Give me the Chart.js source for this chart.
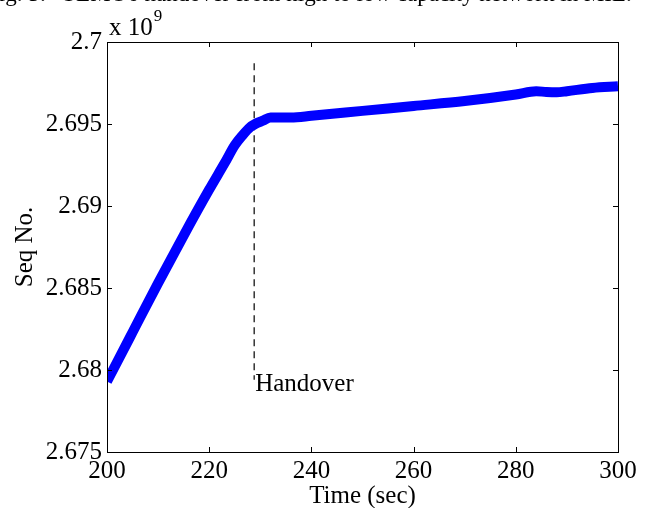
<!DOCTYPE html>
<html>
<head>
<meta charset="utf-8">
<script src="https://cdn.jsdelivr.net/npm/chart.js@4/dist/chart.umd.min.js"></script>
<style>
  html, body { margin: 0; padding: 0; background: #fff; overflow: hidden; }
  #wrap { position: relative; width: 651px; height: 508px; }
  #cap { position: absolute; left: -14px; top: -19px; font: 23px "Liberation Serif", serif; color: #000; white-space: pre; }
</style>
</head>
<body>
<div id="wrap">
  <div id="cap">Fig. 5:   SEMO6 handover from high to low capacity network in MIL.</div>
  <canvas id="c" width="651" height="508"></canvas>
</div>
<script>
// time in seconds, sequence numbers in units of 1e9
const times = [200, 205, 210, 215, 220, 223, 225, 226.5, 228, 229, 230.5, 232, 236, 240, 250, 260, 270, 280, 284, 286, 288, 290, 295, 300];
const seqNo = [2.6793, 2.6823, 2.6853, 2.6882, 2.6910, 2.6926, 2.6937, 2.6943, 2.6948, 2.6950, 2.6952, 2.6954, 2.6954, 2.6955, 2.6958, 2.6961, 2.6964, 2.6968, 2.6970, 2.69695, 2.69693, 2.6970, 2.6972, 2.6973];
const handoverTime = 228.8;
const handoverSpan = [2.6987, 2.6794];
const xTicks = [200, 220, 240, 260, 280, 300];
const yTicks = [2.675, 2.68, 2.685, 2.69, 2.695, 2.7];

const font = "Liberation Serif";
const fs = 25;

const frame = {
  id: "frame",
  afterDraw(chart) {
    const ctx = chart.ctx, a = chart.chartArea;
    const xs = chart.scales.x, ys = chart.scales.y;
    ctx.save();
    ctx.strokeStyle = "#000";
    ctx.lineWidth = 1;
    ctx.strokeRect(a.left + 0.5, a.top + 0.5, a.right - a.left, a.bottom - a.top);
    ctx.beginPath();
    xTicks.forEach(v => {
      const px = Math.round(xs.getPixelForValue(v)) + 0.5;
      ctx.moveTo(px, a.bottom); ctx.lineTo(px, a.bottom - 5);
      ctx.moveTo(px, a.top); ctx.lineTo(px, a.top + 5);
    });
    yTicks.forEach(v => {
      const py = Math.round(ys.getPixelForValue(v)) + 0.5;
      ctx.moveTo(a.left, py); ctx.lineTo(a.left + 5, py);
      ctx.moveTo(a.right, py); ctx.lineTo(a.right - 5, py);
    });
    ctx.stroke();
    ctx.fillStyle = "#000";
    ctx.textBaseline = "alphabetic";
    ctx.font = fs + "px '" + font + "'";
    ctx.fillText("x 10", a.left + 2, a.top - 7);
    const w = ctx.measureText("x 10").width;
    ctx.font = "17px '" + font + "'";
    ctx.fillText("9", a.left + 3 + w, a.top - 21);
    ctx.font = fs + "px '" + font + "'";
    ctx.fillText("Handover", xs.getPixelForValue(handoverTime) + 1, ys.getPixelForValue(2.6787));
    ctx.restore();
  }
};

new Chart(document.getElementById("c"), {
  type: "scatter",
  data: {
    datasets: [{
      data: times.map((t, i) => ({ x: t, y: seqNo[i] })),
      showLine: true,
      borderColor: "#0000ff",
      borderWidth: 10,
      pointRadius: 0,
      tension: 0.3,
      cubicInterpolationMode: "monotone",
      borderJoinStyle: "round",
      borderCapStyle: "butt"
    }, {
      data: handoverSpan.map(v => ({ x: handoverTime, y: v })),
      showLine: true,
      borderColor: "#000",
      borderWidth: 1.2,
      borderDash: [7, 5],
      pointRadius: 0
    }]
  },
  options: {
    responsive: false,
    animation: false,
    layout: { padding: { top: 42, right: 33, left: 0, bottom: 0 } },
    plugins: { legend: { display: false }, tooltip: { enabled: false } },
    scales: {
      x: {
        type: "linear", min: 200, max: 300,
        afterBuildTicks(s) { s.ticks = xTicks.map(v => ({ value: v })); },
        afterFit(s) { s.height = 56; },
        grid: { display: false, drawTicks: false },
        border: { display: false },
        ticks: { color: "#000", padding: 4, font: { family: font, size: fs } },
        title: { display: true, text: "Time (sec)", color: "#000", padding: { top: 0, bottom: -3 }, font: { family: font, size: fs } }
      },
      y: {
        type: "linear", min: 2.675, max: 2.7,
        afterBuildTicks(s) { s.ticks = yTicks.map(v => ({ value: v })); },
        afterFit(s) { s.width = 107; },
        grid: { display: false, drawTicks: false },
        border: { display: false },
        ticks: {
          color: "#000", padding: 5, font: { family: font, size: fs },
          callback: v => String(Number(v.toFixed(3)))
        },
        title: { display: true, text: "Seq No.", color: "#000", padding: { top: 10, bottom: 0 }, font: { family: font, size: fs } }
      }
    }
  },
  plugins: [frame]
});
</script>
</body>
</html>
